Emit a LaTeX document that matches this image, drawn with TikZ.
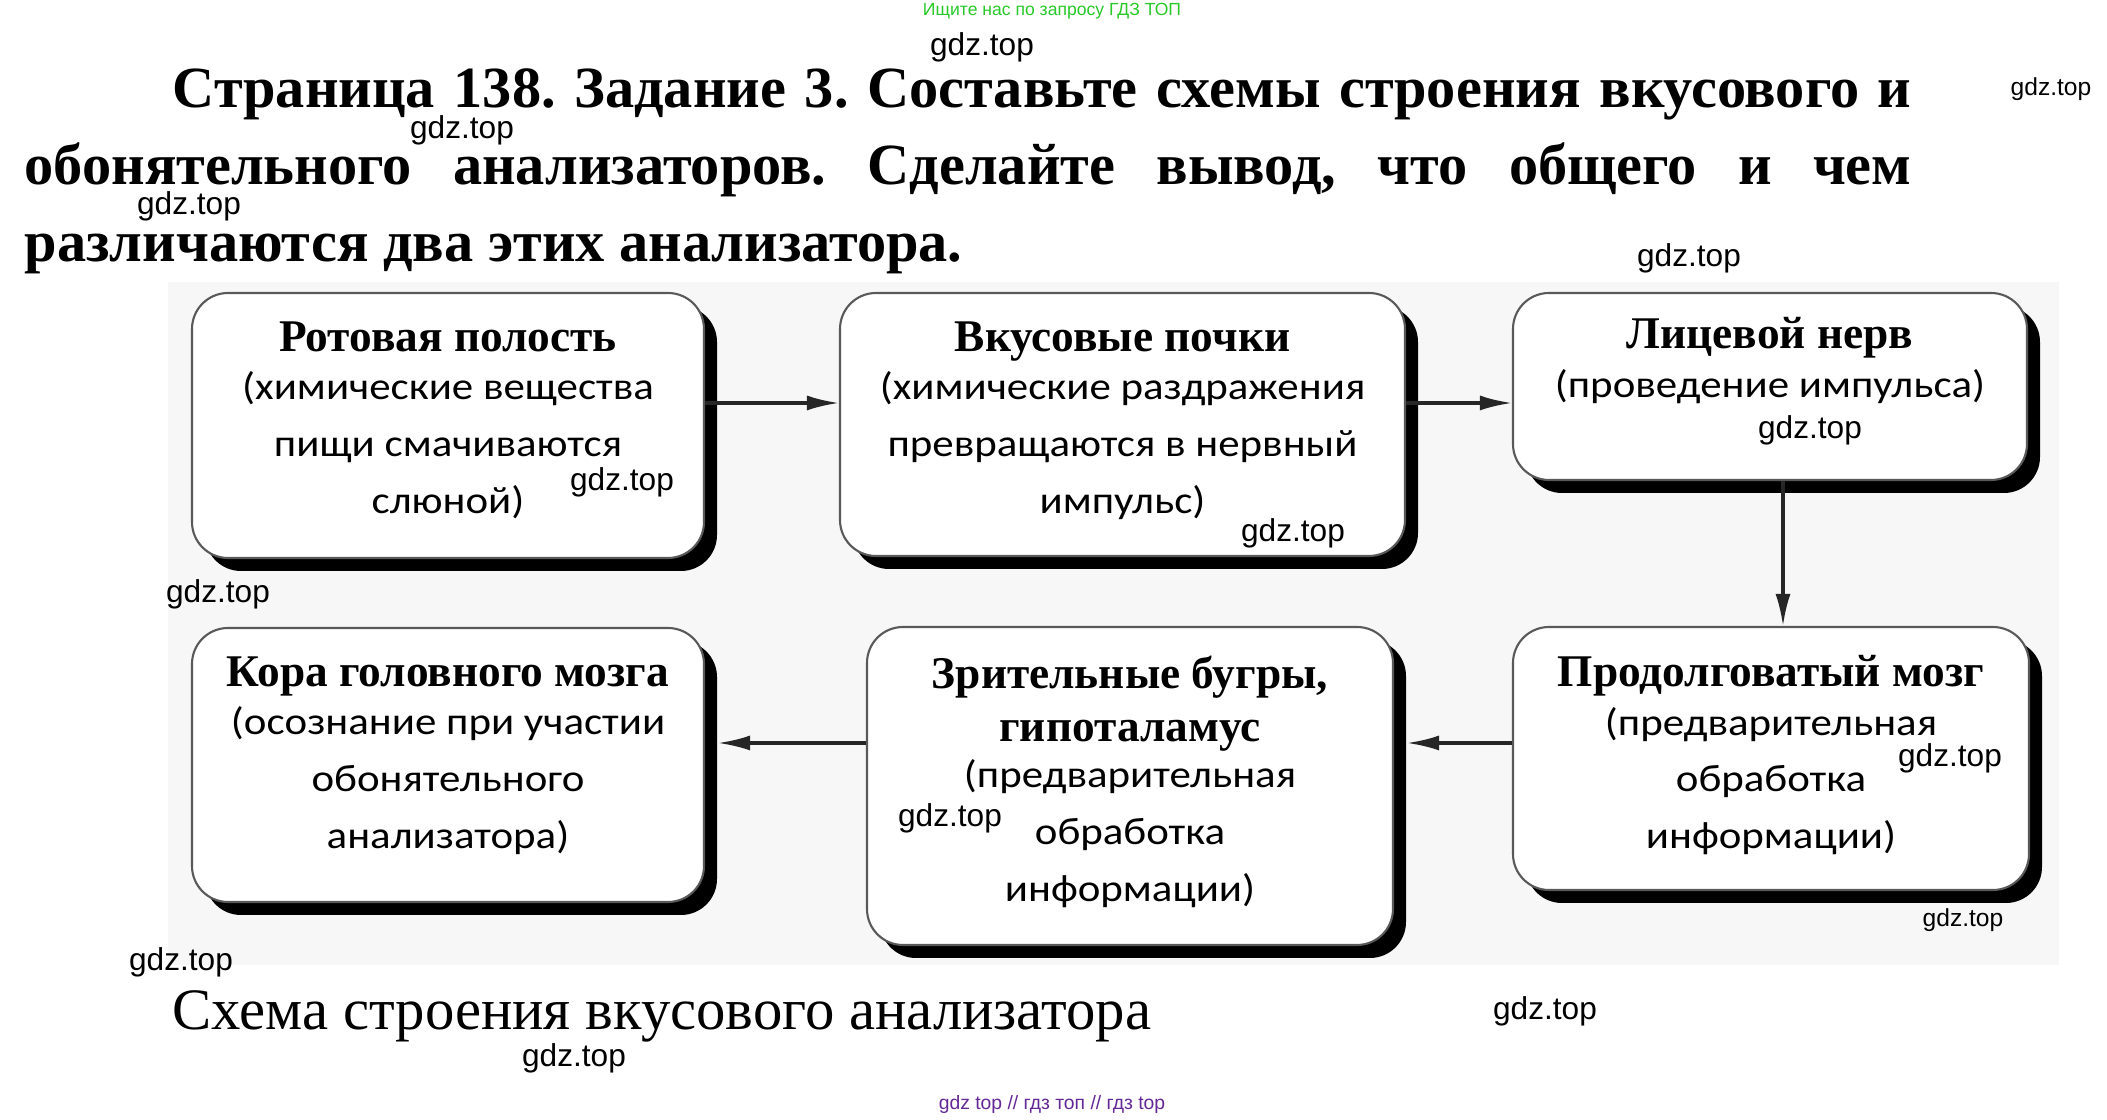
\documentclass[tikz,border=0pt]{standalone}
\usepackage{fontspec}
\setmainfont{Liberation Serif}
\newfontfamily\notefont[FakeStretch=1.12]{Carlito}
\newfontfamily\markfont{Liberation Sans}
\usepackage{tikz}
\usetikzlibrary{arrows.meta}
\usetikzlibrary{positioning}
\usetikzlibrary{shadows}
\usetikzlibrary{calc}
\definecolor{searchgreen}{RGB}{40,200,40}
\definecolor{footpurple}{RGB}{100,40,150}
\definecolor{sheetgray}{RGB}{247,247,247}
\tikzstyle{organ} = [draw = black!65, line width = .6pt, fill = white, rounded corners = 3.6mm, inner sep = 0,
                     drop shadow = {shadow xshift = 1.3mm, shadow yshift = -1.3mm, fill = black, opacity = 1}]
\tikzstyle{organ text} = [anchor = north, align = center, inner sep = 0, font = \notefont\fontsize{10.9}{16.2}\selectfont]
\tikzstyle{flow} = [line width = .9pt, black!85, -{Latex[length = 3.2mm, width = 1.5mm]}]
\tikzstyle{title line} = [anchor = base west, inner sep = 0, font = \bfseries\fontsize{16.6}{20}\selectfont]
\tikzstyle{watermark} = [inner sep = 0, font = \markfont\fontsize{9}{10}\selectfont]
\newcommand{\organhead}[1]{{\rmfamily\bfseries\fontsize{12.9}{16.2}\selectfont #1}}
\frenchspacing

\begin{document}
\begin{tikzpicture}[x = .1mm, y = -.1mm]
    \useasboundingbox (0,0) rectangle (2107,1120);
    \fill [sheetgray] (168,282) rectangle (2059,965);

    % task text
    \node [text = searchgreen, inner sep = 0, font = \markfont\fontsize{5}{6}\selectfont] (search_note) at (1052,11) {Ищите нас по запросу ГДЗ ТОП};
    \node [title line] (title_1) at (172,108) {\makebox[173.9mm][s]{Страница 138. Задание 3. Составьте схемы строения вкусового и}};
    \node [title line] (title_2) at (24,185)  {\makebox[188.7mm][s]{обонятельного анализаторов. Сделайте вывод, что общего и чем}};
    \node [title line] (title_3) at (24,262)  {различаются два этих анализатора.};

    % boxes of the analyser
    \node [organ, minimum width = 51.2mm, minimum height = 26.5mm] (organ_mouth)    at (448,425.5)  {};
    \node [organ, minimum width = 56.5mm, minimum height = 26.3mm] (organ_buds)     at (1122.5,424.5) {};
    \node [organ, minimum width = 51.4mm, minimum height = 18.7mm] (organ_nerve)    at (1770,386.5) {};
    \node [organ, minimum width = 51.6mm, minimum height = 26.3mm] (organ_medulla)  at (1771,758.5) {};
    \node [organ, minimum width = 52.6mm, minimum height = 31.8mm] (organ_thalamus) at (1130,786)   {};
    \node [organ, minimum width = 51.2mm, minimum height = 27.4mm] (organ_cortex)   at (448,765)    {};

    \node [organ text] (text_mouth) at ([yshift = -2.9mm] organ_mouth.north)
        {\organhead{Ротовая полость}\\[-2.5pt] (химические вещества\\ пищи смачиваются\\ слюной)};
    \node [organ text] (text_buds) at ([yshift = -2.9mm] organ_buds.north)
        {\organhead{Вкусовые почки}\\[-2.5pt] (химические раздражения\\ превращаются в нервный\\ импульс)};
    \node [organ text] (text_nerve) at ([yshift = -2.5mm] organ_nerve.north)
        {\organhead{Лицевой нерв}\\[-2.5pt] (проведение импульса)};
    \node [organ text] (text_medulla) at ([yshift = -2.9mm] organ_medulla.north)
        {\organhead{Продолговатый мозг}\\[-2.5pt] (предварительная\\ обработка\\ информации)};
    \node [organ text] (text_thalamus) at ([yshift = -2.9mm] organ_thalamus.north)
        {\organhead{Зрительные бугры,}\\[-1pt] \organhead{гипоталамус}\\[-3pt] (предварительная\\ обработка\\ информации)};
    \node [organ text] (text_cortex) at ([yshift = -2.9mm] organ_cortex.north)
        {\organhead{Кора головного мозга}\\[-2.5pt] (осознание при участии\\ обонятельного\\ анализатора)};

    % connectors
    \coordinate (row_top)    at (0,403);
    \coordinate (row_bottom) at (0,743);
    \draw [flow] (organ_mouth.east |- row_top) -- (organ_buds.west |- row_top);
    \draw [flow] (organ_buds.east |- row_top)  -- (organ_nerve.west |- row_top);
    \draw [flow] ($(organ_nerve.south) + (13,0)$) -- ($(organ_medulla.north) + (12,0)$);
    \draw [flow] (organ_medulla.west |- row_bottom)  -- ($(organ_thalamus.east |- row_bottom) + (13,0)$);
    \draw [flow] (organ_thalamus.west |- row_bottom) -- ($(organ_cortex.east |- row_bottom) + (13,0)$);

    \node [anchor = base west, inner sep = 0, font = \fontsize{16.7}{19}\selectfont] (caption) at (172,1030) {Схема строения вкусового анализатора};
    \node [text = footpurple, inner sep = 0, font = \markfont\fontsize{5.5}{6}\selectfont] (foot_note) at (1052,1105) {gdz top // гдз топ // гдз top};

    % watermarks
    \foreach \x/\y [count = \i] in {982/47, 462/130, 189/206, 1689/258, 622/482, 1293/533, 1810/430,
                                    218/594, 950/818, 1950/758, 181/962, 1545/1011, 574/1058}
        \node [watermark] (mark_\i) at (\x,\y) {gdz.top};
    \foreach \x/\y [count = \i] in {2051/89, 1963/920}
        \node [watermark, font = \markfont\fontsize{7}{8}\selectfont] (small_mark_\i) at (\x,\y) {gdz.top};
\end{tikzpicture}
\end{document}
